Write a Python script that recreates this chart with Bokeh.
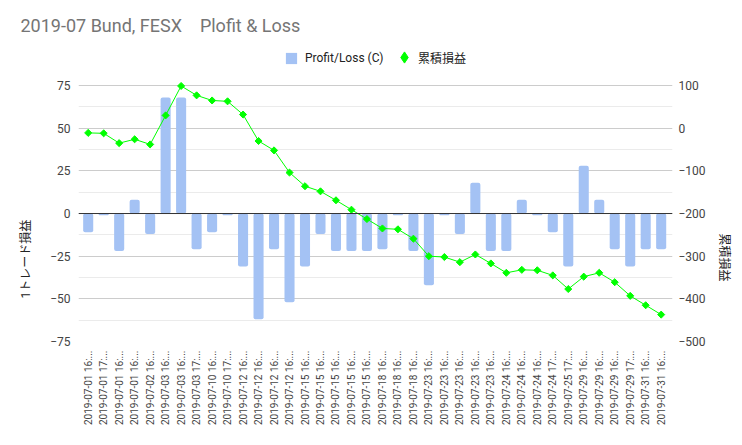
import math
from bokeh.plotting import figure
from bokeh.models import (Range1d, LinearAxis, FixedTicker, Span, Legend,
                          LegendItem, ColumnDataSource, Title)
from bokeh.embed import file_html
from bokeh.resources import INLINE

labels = (
    ["2019-07-01 16:...", "2019-07-01 17:...", "2019-07-01 16:...", "2019-07-01 16:...",
     "2019-07-02 16:...", "2019-07-03 16:...", "2019-07-03 16:...", "2019-07-03 17:...",
     "2019-07-10 16:...", "2019-07-10 17:..."]
    + ["2019-07-12 16:..."] * 4
    + ["2019-07-15 16:..."] * 5
    + ["2019-07-18 16:..."] * 3
    + ["2019-07-23 16:..."] * 5
    + ["2019-07-24 16:..."] * 3
    + ["2019-07-24 17:...", "2019-07-25 17:..."]
    + ["2019-07-29 16:..."] * 3
    + ["2019-07-29 17:..."]
    + ["2019-07-31 16:..."] * 2
)

profit = [-11, -1, -22, 8, -12, 68, 68, -21, -11, -1,
          -31, -62, -21, -52, -31, -12, -22, -22, -22, -21,
          -1, -22, -42, -1, -12, 18, -22, -22, 8, -1,
          -11, -31, 28, 8, -21, -31, -21, -21]

cumulative = [-11, -12, -35, -26, -38, 30, 99, 77, 65, 63,
              32, -30, -52, -104, -136, -148, -169, -191, -213, -235,
              -237, -259, -300, -302, -314, -296, -317, -339, -332, -333,
              -345, -377, -348, -339, -361, -393, -415, -437]

left_ticks = [-75, -50, -25, 0, 25, 50, 75]
left_minor = [-62.5, -37.5, -12.5, 12.5, 37.5, 62.5]
right_ticks = [-500, -400, -300, -200, -100, 0, 100]

title_text = "2019-07 Bund, FESX \u00a0\u00a0 Plofit & Loss"
bar_name = "Profit/Loss (C)"
line_name = "累積損益"
left_title = "1トレード損益"
right_title = "累積損益"

idx = list(range(len(labels)))
src = ColumnDataSource(dict(x=idx, profit=profit, cum=cumulative))

FONT = "Roboto"
CJK = "Roboto, 'Noto Sans CJK JP', sans-serif"

# frame spans the legend row too (blank above the top gridline)
p = figure(width=742, height=445, output_backend="svg", toolbar_location=None,
           x_range=Range1d(-0.6264, 37.731), y_range=Range1d(-75, 98.465),
           min_border_left=78, min_border_right=70, min_border_top=45,
           min_border_bottom=104, title=title_text)
p.outline_line_color = None
p.background_fill_color = "white"

p.title.text_font = FONT
p.title.text_font_size = "18px"
p.title.text_font_style = "normal"
p.title.text_color = "#757575"
p.title.offset = -58
p.title.standoff = 19

p.extra_y_ranges = {"cum": Range1d(-500, 193.86)}

lt = FixedTicker(ticks=left_ticks, minor_ticks=left_minor)
p.yaxis.ticker = lt
p.ygrid.ticker = lt
p.ygrid.grid_line_color = "#cccccc"
p.ygrid.minor_grid_line_color = "#ebebeb"
p.xgrid.grid_line_color = None

ya = p.yaxis[0]
ya.axis_line_color = None
ya.major_tick_line_color = None
ya.minor_tick_line_color = None
ya.major_tick_out = 0
ya.minor_tick_out = 0
ya.major_label_standoff = 8
ya.major_label_text_font = FONT
ya.major_label_text_font_size = "12px"
ya.major_label_text_color = "#444444"

xa = p.xaxis[0]
xa.ticker = FixedTicker(ticks=idx)
xa.major_label_overrides = {i: lab for i, lab in enumerate(labels)}
xa.major_label_orientation = math.pi / 2
xa.axis_line_color = None
xa.major_tick_line_color = None
xa.minor_tick_line_color = None
xa.major_tick_out = 0
xa.minor_tick_out = 0
xa.major_label_standoff = 9
xa.major_label_text_font = FONT
xa.major_label_text_font_size = "10px"
xa.major_label_text_color = "#444444"

ra = LinearAxis(y_range_name="cum", ticker=FixedTicker(ticks=right_ticks))
ra.axis_line_color = None
ra.major_tick_line_color = None
ra.minor_tick_line_color = None
ra.major_tick_out = 0
ra.minor_tick_out = 0
ra.major_label_standoff = 6
ra.major_label_text_font = FONT
ra.major_label_text_font_size = "12px"
ra.major_label_text_color = "#444444"
p.add_layout(ra, "right")

# axis titles as side titles (so they can be shifted along the axis)
lt_title = Title(text=left_title, align="left", offset=43, standoff=30,
                 text_font=CJK, text_font_size="12px", text_font_style="normal",
                 text_color="#222222")
rt_title = Title(text=right_title, align="left", offset=188, standoff=16,
                 text_font=CJK, text_font_size="12px", text_font_style="normal",
                 text_color="#222222")
p.add_layout(lt_title, "left")
p.add_layout(rt_title, "right")

bars = p.vbar(x="x", top="profit", width=0.65, source=src,
              fill_color="#a4c2f4", line_color=None, border_radius=2)
p.add_layout(Span(location=0, dimension="width", line_color="#333333", line_width=1))
p.line("x", "cum", source=src, y_range_name="cum", line_color="#00ff00", line_width=1)
pts = p.scatter("x", "cum", source=src, y_range_name="cum", marker="square",
                angle=math.pi / 4, size=5, fill_color="#00ff00", line_color="#00ff00")
# legend-only proxy renderer (its single point lies outside the visible ranges)
proxy = p.scatter(x=[-100], y=[-1000], marker="diamond", fill_color="#00ff00",
                  line_color="#00ff00")

leg_common = dict(orientation="horizontal", padding=0, margin=0,
                  border_line_color=None, background_fill_alpha=0,
                  label_text_font=CJK, label_text_font_size="12px",
                  label_text_color="#222222")
leg1 = Legend(items=[LegendItem(label=bar_name, renderers=[bars])],
              location=(206, 276), glyph_width=14, glyph_height=14,
              label_standoff=7, **leg_common)
leg2 = Legend(items=[LegendItem(label=line_name, renderers=[proxy])],
              location=(312, 270), glyph_width=28, glyph_height=28,
              label_standoff=0, **leg_common)
p.add_layout(leg1)
p.add_layout(leg2)

open("out.html", "w").write(file_html(p, INLINE))
